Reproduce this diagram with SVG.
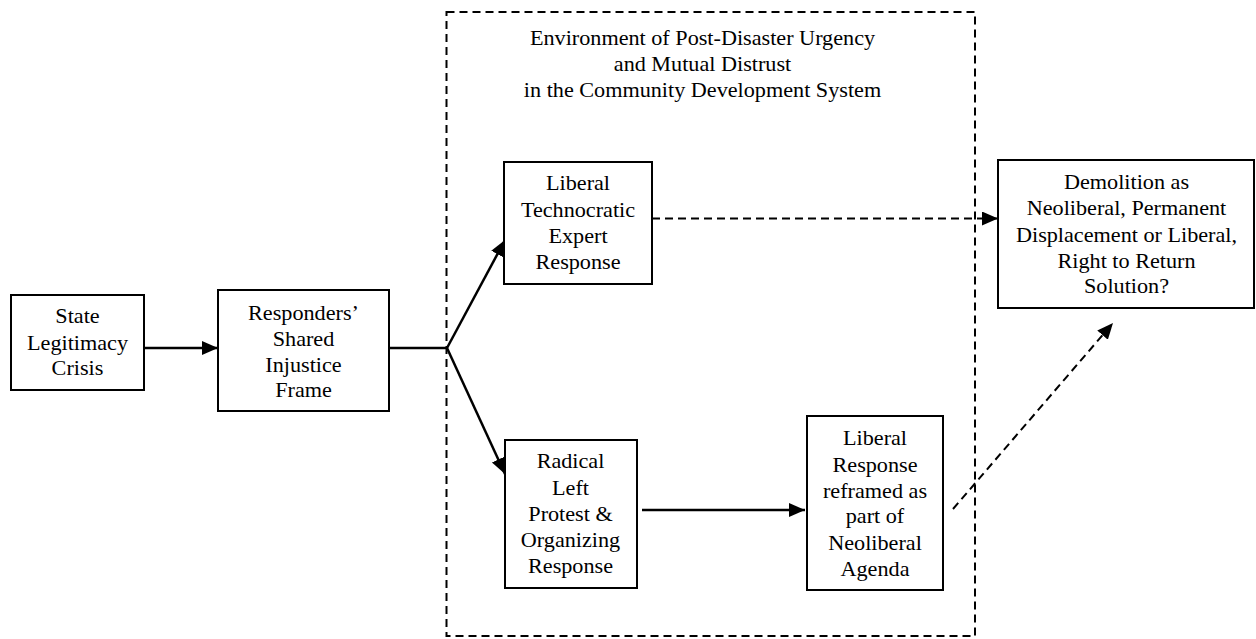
<svg xmlns="http://www.w3.org/2000/svg" width="1256" height="639" viewBox="0 0 1256 639">
<style>
.box{fill:#fff;stroke:#000;stroke-width:2}
.env{fill:none;stroke:#000;stroke-width:2;stroke-dasharray:8 5}
.t{font-family:"Liberation Serif","Times New Roman",serif;font-size:20px;text-anchor:middle;fill:#000}
.c{fill:none;stroke:#000;stroke-width:2.5}
.d{fill:none;stroke:#000;stroke-width:2;stroke-dasharray:8 5}
</style>
<defs>
<marker id="ah" markerUnits="userSpaceOnUse" markerWidth="17" markerHeight="15" refX="16" refY="7" orient="auto">
<path d="M0,0 L16,7 L0,14 z" fill="#000"/>
</marker>
</defs>
<rect width="1256" height="639" fill="#fff"/>
<g id="environment">
<rect class="env" x="446.5" y="12" width="528.5" height="624"/>
<text class="t" transform="translate(702.5 0) scale(1.11 1)"><tspan x="0" y="45">Environment of Post-Disaster Urgency</tspan><tspan x="0" y="71">and Mutual Distrust</tspan><tspan x="0" y="97">in the Community Development System</tspan></text>
</g>
<g id="connectors">
<line class="c" x1="144" y1="348" x2="218" y2="348" marker-end="url(#ah)"/>
<line class="c" x1="389" y1="348" x2="447" y2="348"/>
<line class="c" x1="447" y1="348" x2="505" y2="240" marker-end="url(#ah)"/>
<line class="c" x1="447" y1="348" x2="505" y2="474" marker-end="url(#ah)"/>
<line class="c" x1="642" y1="510" x2="805" y2="510" marker-end="url(#ah)"/>
<line class="d" x1="652" y1="218.5" x2="998" y2="218.5" marker-end="url(#ah)"/>
<line class="d" x1="953" y1="509" x2="1113" y2="323" marker-end="url(#ah)"/>
</g>
<g id="state">
<rect class="box" x="11" y="295" width="133" height="95"/>
<text class="t" transform="translate(77.5 0) scale(1.11 1)"><tspan x="0" y="323">State</tspan><tspan x="0" y="350">Legitimacy</tspan><tspan x="0" y="375">Crisis</tspan></text>
</g>
<g id="responders">
<rect class="box" x="218" y="290" width="171" height="121"/>
<text class="t" transform="translate(303.5 0) scale(1.11 1)"><tspan x="0" y="320">Responders’</tspan><tspan x="0" y="346">Shared</tspan><tspan x="0" y="372">Injustice</tspan><tspan x="0" y="397">Frame</tspan></text>
</g>
<g id="liberal-tech">
<rect class="box" x="504" y="162" width="148" height="122"/>
<text class="t" transform="translate(578 0) scale(1.11 1)"><tspan x="0" y="190">Liberal</tspan><tspan x="0" y="217">Technocratic</tspan><tspan x="0" y="243">Expert</tspan><tspan x="0" y="269">Response</tspan></text>
</g>
<g id="radical">
<rect class="box" x="505" y="440" width="132" height="148"/>
<text class="t" transform="translate(570.5 0) scale(1.11 1)"><tspan x="0" y="468">Radical</tspan><tspan x="0" y="495">Left</tspan><tspan x="0" y="521">Protest &amp;</tspan><tspan x="0" y="547">Organizing</tspan><tspan x="0" y="573">Response</tspan></text>
</g>
<g id="liberal-reframed">
<rect class="box" x="807" y="416" width="136" height="174"/>
<text class="t" transform="translate(875 0) scale(1.11 1)"><tspan x="0" y="445">Liberal</tspan><tspan x="0" y="472">Response</tspan><tspan x="0" y="498">reframed as</tspan><tspan x="0" y="523">part of</tspan><tspan x="0" y="550">Neoliberal</tspan><tspan x="0" y="576">Agenda</tspan></text>
</g>
<g id="demolition">
<rect class="box" x="998" y="160" width="256" height="148"/>
<text class="t" transform="translate(1126.5 0) scale(1.11 1)"><tspan x="0" y="189">Demolition as</tspan><tspan x="0" y="215">Neoliberal, Permanent</tspan><tspan x="0" y="242">Displacement or Liberal,</tspan><tspan x="0" y="268">Right to Return</tspan><tspan x="0" y="293">Solution?</tspan></text>
</g>
</svg>
